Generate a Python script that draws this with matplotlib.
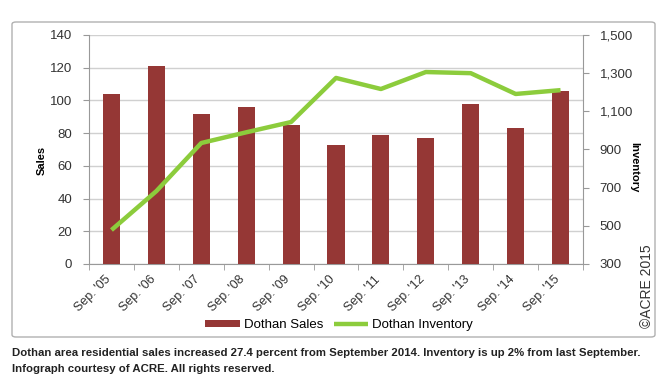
import matplotlib
matplotlib.use("Agg")
import matplotlib.pyplot as plt
from matplotlib.patches import FancyBboxPatch
import matplotlib.transforms as mtransforms
import numpy as np

categories = ["Sep. '05", "Sep. '06", "Sep. '07", "Sep. '08", "Sep. '09", "Sep. '10",
              "Sep. '11", "Sep. '12", "Sep. '13", "Sep. '14", "Sep. '15"]
sales = [104, 121, 92, 96, 85, 73, 79, 77, 98, 83, 106]
inventory = [478, 682, 934, 990, 1044, 1275, 1217, 1306, 1300, 1191, 1211]
left_ticks = [0, 20, 40, 60, 80, 100, 120, 140]
right_ticks = [300, 500, 700, 900, 1100, 1300, 1500]

plt.rcParams['font.family'] = ['Liberation Sans', 'DejaVu Sans']

fig = plt.figure(figsize=(6.63, 3.82), dpi=100)
fig.patch.set_facecolor('white')

box = FancyBboxPatch((12/663, 1-337/382), (655-12)/663, (337-22)/382,
                     boxstyle="round,pad=0,rounding_size=0.006", transform=fig.transFigure,
                     facecolor='none', edgecolor='#b0b0b0', linewidth=1.0, zorder=-5)
fig.patches.append(box)

ax = fig.add_axes([89/663, 1-264/382, (583-89)/663, (264-35)/382])
ax.set_facecolor('none')
x = np.arange(len(categories))
ax.bar(x, sales, width=0.38, color='#953735', zorder=3, label='Dothan Sales')
ax.set_ylim(0, 140)
ax.set_xlim(-0.5, len(categories)-0.5)
ax.set_yticks(left_ticks)
ax.set_yticklabels([str(v) for v in left_ticks], fontsize=9.5, color='#333333')
ax.yaxis.grid(True, color='#d0d0d0', linewidth=1.0, zorder=0)
ax.set_axisbelow(True)
ax.set_xticks(x)
ax.set_xticklabels(categories, rotation=45, ha='right', rotation_mode='anchor', fontsize=9, color='#333333')
ax.tick_params(axis='x', length=0, pad=7)
offset = mtransforms.ScaledTranslation(-7/100, 0, fig.dpi_scale_trans)
for lab in ax.get_xticklabels():
    lab.set_transform(lab.get_transform() + offset)
ax.set_xticks(np.arange(-0.5, len(categories), 1), minor=True)
ax.tick_params(axis='x', which='minor', length=4, color='#999999', direction='out')
ax.tick_params(axis='y', length=4, color='#999999', pad=8)
for s in ['top', 'right']:
    ax.spines[s].set_visible(False)
ax.spines['left'].set_color('#999999')
ax.spines['bottom'].set_color('#999999')

ax2 = ax.twinx()
ax2.plot(x, inventory, color='#8ccc3c', linewidth=3.2, solid_capstyle='butt', zorder=4, label='Dothan Inventory')
ax2.set_ylim(300, 1500)
ax2.set_yticks(right_ticks)
ax2.set_yticklabels([f"{v:,}" for v in right_ticks], fontsize=9.5, color='#333333')
ax2.tick_params(axis='y', length=4, color='#999999', pad=8)
for s in ['top', 'left', 'bottom']:
    ax2.spines[s].set_visible(False)
ax2.spines['right'].set_color('#999999')

fig.text(42/663, 1-160/382, 'Sales', rotation=90, ha='center', va='center', fontsize=8, fontweight='bold')
fig.text(634/663, 1-167/382, 'Inventory', rotation=-90, ha='center', va='center', fontsize=8, fontweight='bold')

h1, l1 = ax.get_legend_handles_labels()
h2, l2 = ax2.get_legend_handles_labels()
fig.legend(h1 + h2, l1 + l2, loc='center', bbox_to_anchor=(339/663, 1-325/382), ncol=2,
           frameon=False, handlelength=2.6, handleheight=0.5, columnspacing=0.8,
           handletextpad=0.3, prop={'size': 9.5})

fig.text(647/663, 1-286/382, '©ACRE 2015', rotation=90, ha='center', va='center', fontsize=10,
         color='#333333')

fig.text(12/663, 1-353/382, 'Dothan area residential sales increased 27.4 percent from September 2014. Inventory is up 2% from last September.',
         fontsize=8.2, fontweight='bold', va='center', ha='left', color='#222222')
fig.text(12/663, 1-369/382, 'Infograph courtesy of ACRE. All rights reserved.',
         fontsize=8.2, fontweight='bold', va='center', ha='left', color='#222222')

fig.savefig('out.png', dpi=100)
